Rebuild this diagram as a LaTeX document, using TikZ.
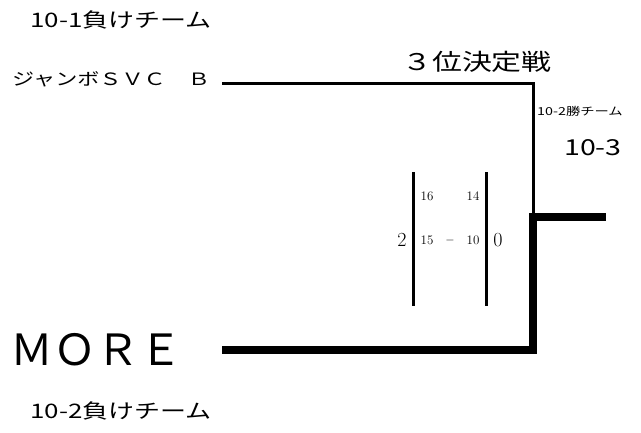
\documentclass[tikz,border=0pt]{standalone}
\usepackage{fontspec}
\newfontfamily\jpfont[FakeStretch=1.3]{Noto Sans CJK JP}
\newfontfamily\jpwide{Noto Sans CJK JP}
\usetikzlibrary{positioning,calc}

\begin{document}
\begin{tikzpicture}
        [x=1pt,y=-1pt,
        every node/.style={inner sep=0pt},
        team/.style={font=\jpfont\fontsize{17}{17}\selectfont},
        note/.style={font=\jpfont\fontsize{20}{20}\selectfont},
        thinline/.style={line width=3pt},
        thickline/.style={line width=7.5pt},
        scorebar/.style={line width=3pt},
        setpt/.style={font=\fontsize{13}{13}\selectfont},
        total/.style={font=\fontsize{20}{20}\selectfont}]
        \useasboundingbox (0,0) rectangle (641,432);
        % labels
        \node[note] (lose1) at (121,20) {10-1負けチーム};
        \node[team,anchor=west] (jumbo) at (12,79) {ジャンボＳＶＣ　Ｂ};
        \node[font=\jpfont\fontsize{23}{23}\selectfont] (third) at (477,62) {３位決定戦};
        \node[font=\jpfont\fontsize{11}{11}\selectfont] (win2) at (580,111) {10-2勝チーム};
        \node[font=\jpfont\fontsize{22}{22}\selectfont] (match) at (593,148) {10-3};
        \node[font=\jpwide\fontsize{43}{43}\selectfont,anchor=west] (more) at (10,350) {ＭＯＲＥ};
        \node[note] (lose2) at (121,411) {10-2負けチーム};
        % score
        \coordinate (barA) at (413,172);
        \coordinate (barB) at (486,172);
        \draw[scorebar] (barA) -- ++(0,134);
        \draw[scorebar] (barB) -- ++(0,134);
        \node[total] (scoreL) at (402,240) {2};
        \node[total] (scoreR) at (498,240) {0};
        \node[setpt] (s1L) at (427,196) {16};
        \node[setpt] (s1R) at (473,196) {14};
        \node[setpt] (s2L) at (427,240) {15};
        \node[setpt] (s2R) at (473,240) {10};
        \node[setpt] (dash) at (450,240) {$-$};
        % bracket
        \coordinate (topturn) at (533,83);
        \coordinate (junction) at (533,217);
        \coordinate (winend) at (606,217);
        \coordinate (moreturn) at (533,350);
        \draw[thinline] ([xshift=12pt]jumbo.east |- topturn) -- (topturn) -- (junction);
        \draw[thickline] ([xshift=40pt]more.east) -- (moreturn) -- (junction) -- (winend);
        \end{tikzpicture}
\end{document}
